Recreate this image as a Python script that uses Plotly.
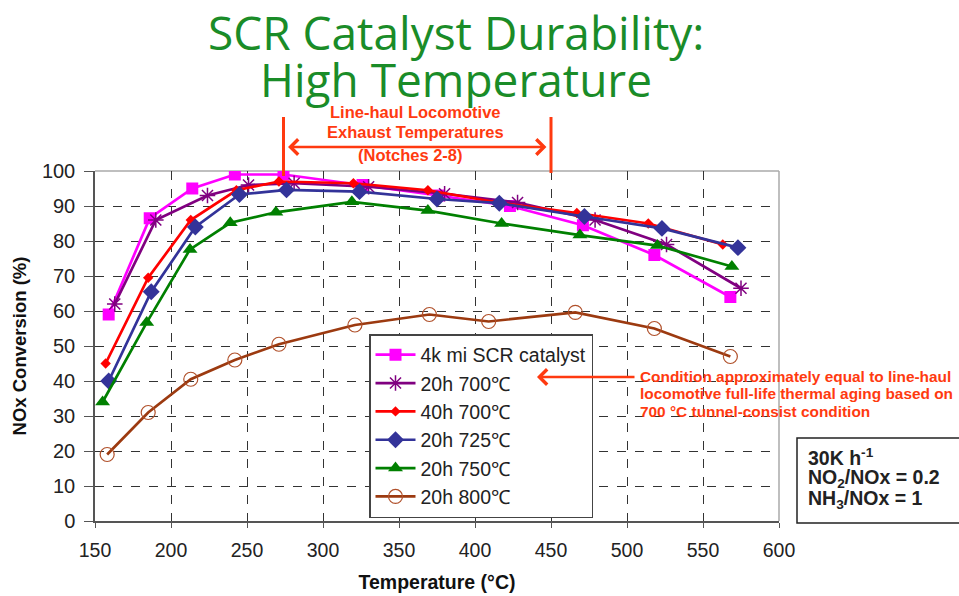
import plotly.graph_objects as go

# ---- data ----
names = ["4k mi SCR catalyst", "20h 700\u2103", "40h 700\u2103", "20h 725\u2103", "20h 750\u2103", "20h 800\u2103"]
x_4k = [159, 186, 214, 242, 274, 326, 376, 423, 471, 518, 568]
y_4k = [59, 86.5, 95, 99, 99, 96, 93, 90, 84.5, 76, 64]
x_700a = [163, 190, 224, 251, 281, 330, 380, 428, 479, 526, 575]
y_700a = [62, 86, 93, 96, 96.5, 95.5, 93.5, 91, 86, 79, 66.5]
x_700b = [157, 185, 213, 243, 271, 320, 369, 415, 467, 514, 563]
y_700b = [45, 69.5, 86, 94.5, 97, 96.5, 94.5, 91, 88, 85, 79]
x_725 = [159, 187, 216, 245, 276, 324, 375, 416, 472, 523, 573]
y_725 = [40, 65.5, 84, 93.3, 94.6, 94.1, 92, 90.8, 87, 83.6, 78.1]
x_750 = [155, 184, 212.5, 239, 269, 319, 369, 417.5, 469, 520, 569]
y_750 = [34, 56.7, 77.6, 85.2, 88.2, 91.2, 88.7, 85, 81.7, 78.7, 72.7]
x_800 = [158, 185, 213, 242, 271, 321, 370, 409, 466, 518, 568]
y_800 = [19, 31, 40.5, 46, 50.5, 56, 59, 57, 59.6, 55, 47]

x_ticks = [150, 200, 250, 300, 350, 400, 450, 500, 550, 600]
y_ticks = [0, 10, 20, 30, 40, 50, 60, 70, 80, 90, 100]
notch_range = [274, 450]

title_lines = ["SCR Catalyst Durability:", "High Temperature"]
notch_lines = ["Line-haul Locomotive", "Exhaust Temperatures", "(Notches 2-8)"]
note_lines = ["Condition approximately equal to line-haul",
              "locomotive full-life thermal aging based on",
              "700 \u00b0C tunnel-consist condition"]
box_lines = ["30K h<sup>-1</sup>", "NO<sub>2</sub>/NOx = 0.2", "NH<sub>3</sub>/NOx = 1"]

RED = "#ff3a10"
GREEN = "#1a8c28"
FONT = "Liberation Sans, Arial, sans-serif"

# plot-area geometry helpers (margins in px)
L, R, T, B, W, H = 95, 180, 171, 75, 959, 596
PW, PH = W - L - R, H - T - B


def px(xp):
    return (xp - L) / PW


def py(yp):
    return (H - B - yp) / PH


fig = go.Figure()

styles = [
    (x_4k, y_4k, "#ff00ff", dict(symbol="square", size=12, color="#ff00ff")),
    (x_700a, y_700a, "#800080", dict(symbol="asterisk-open", size=13, color="#800080",
                                     line=dict(color="#800080", width=1.5))),
    (x_700b, y_700b, "#ff0000", dict(symbol="diamond", size=8, color="#ff0000")),
    (x_725, y_725, "#333399", dict(symbol="diamond", size=13, color="#333399")),
    (x_750, y_750, "#008000", dict(symbol="triangle-up", size=13, color="#008000")),
    (x_800, y_800, "#9c3a10", dict(symbol="circle-open", size=14, color="#b0502a",
                                   line=dict(color="#b0502a", width=1.2))),
]
for name, (xs, ys, col, mk) in zip(names, styles):
    fig.add_trace(go.Scatter(x=xs, y=ys, mode="lines+markers", name=name,
                             line=dict(color=col, width=2.7), marker=mk))

annotations = []
for txt, yc in zip(title_lines, [32, 79]):
    annotations.append(dict(text=txt, x=px(456), y=py(yc), xref="paper", yref="paper",
                            xanchor="center", yanchor="middle", showarrow=False,
                            font=dict(family="Open Sans, DejaVu Sans", size=46, color=GREEN)))
for txt, (xc, yc) in zip(notch_lines, [(415, 112), (415, 132), (410, 155)]):
    annotations.append(dict(text="<b>" + txt + "</b>", x=px(xc), y=py(yc), xref="paper",
                            yref="paper", xanchor="center", yanchor="middle", showarrow=False,
                            font=dict(family=FONT, size=16.5, color=RED)))
for txt, yc in zip(note_lines, [376, 393.5, 411]):
    annotations.append(dict(text="<b>" + txt + "</b>", x=px(638), y=py(yc), xref="paper",
                            yref="paper", xanchor="left", yanchor="middle", showarrow=False,
                            font=dict(family=FONT, size=15.4, color=RED)))
for txt, yc in zip(box_lines, [457, 478, 499]):
    annotations.append(dict(text="<b>" + txt + "</b>", x=px(806), y=py(yc), xref="paper",
                            yref="paper", xanchor="left", yanchor="middle", showarrow=False,
                            font=dict(family=FONT, size=19.5, color="#222")))
# double arrow over the notch range
annotations.append(dict(x=notch_range[1] - 3, y=py(147), xref="x", yref="paper",
                        ax=notch_range[0] + 2, ay=0, axref="x", ayref="pixel",
                        showarrow=True, arrowside="end+start", arrowhead=4, arrowsize=1.2,
                        arrowwidth=2.5, arrowcolor=RED, text=""))
# arrow from the note to the legend entry
annotations.append(dict(x=px(537), y=py(377), xref="paper", yref="paper", ax=99, ay=0,
                        showarrow=True, arrowhead=4, arrowsize=1.2, arrowwidth=2.5,
                        arrowcolor=RED, text=""))

shapes = [
    dict(type="line", xref="x", yref="paper", x0=notch_range[0], x1=notch_range[0],
         y0=py(176), y1=py(117), line=dict(color=RED, width=3)),
    dict(type="line", xref="x", yref="paper", x0=notch_range[1], x1=notch_range[1],
         y0=py(173), y1=py(117), line=dict(color=RED, width=3)),
    dict(type="line", xref="paper", yref="paper", x0=0, x1=1, y0=1, y1=1,
         line=dict(color="#aaaaaa", width=1.5), layer="below"),
    dict(type="line", xref="paper", yref="paper", x0=1, x1=1, y0=0, y1=1,
         line=dict(color="#aaaaaa", width=1.5), layer="below"),
    dict(type="rect", xref="paper", yref="paper", x0=px(797), x1=px(990),
         y0=py(523), y1=py(438), line=dict(color="#222", width=1.5), fillcolor="white"),
]

fig.update_layout(
    width=W, height=H,
    margin=dict(l=L, r=R, t=T, b=B, autoexpand=False),
    paper_bgcolor="white", plot_bgcolor="white",
    font=dict(family=FONT, size=20, color="#222"),
    showlegend=True,
    legend=dict(x=px(369), y=py(334), xanchor="left", yanchor="top",
                bgcolor="white", bordercolor="#444", borderwidth=1.5,
                font=dict(family=FONT, size=19.5, color="#222"),
                itemwidth=40, tracegroupgap=0),
    annotations=annotations,
    shapes=shapes,
    xaxis=dict(range=[150, 600], tickvals=x_ticks, ticktext=[str(v) for v in x_ticks],
               showgrid=True, gridcolor="#333", griddash="dash", gridwidth=1,
               showline=True, linecolor="#555", linewidth=1.5,
               ticks="outside", ticklen=5, tickcolor="#555",
               tickfont=dict(size=19.5), ticklabelstandoff=6,
               zeroline=False, automargin=False,
               title=dict(text="<b>Temperature (\u00b0C)</b>", standoff=15,
                          font=dict(family=FONT, size=19.5, color="#111"))),
    yaxis=dict(range=[0, 100], tickvals=y_ticks, ticktext=[str(v) for v in y_ticks],
               showgrid=True, gridcolor="#333", griddash="dash", gridwidth=1,
               showline=True, linecolor="#555", linewidth=1.5,
               ticks="outside", ticklen=9, tickcolor="#555",
               tickfont=dict(size=20), ticklabelstandoff=5,
               zeroline=False, automargin=False,
               title=dict(text="<b>NOx Conversion (%)</b>", standoff=10,
                          font=dict(family=FONT, size=18.5, color="#111"))),
)

fig.write_html("out.html")
